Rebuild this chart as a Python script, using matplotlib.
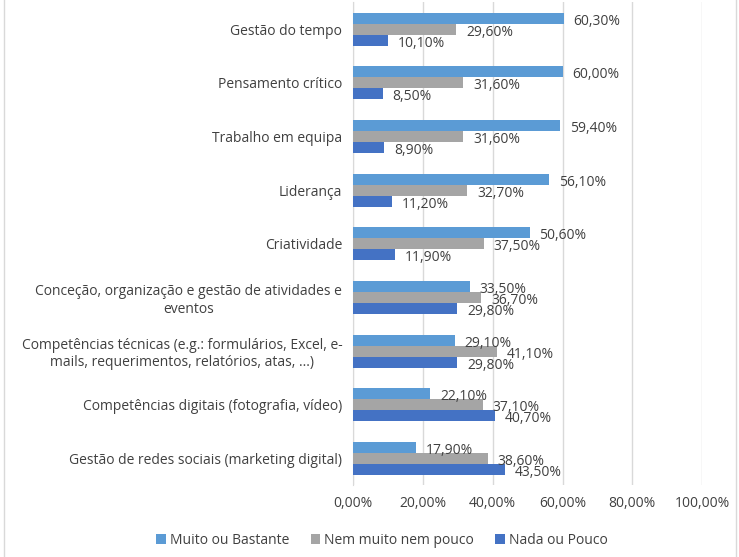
import matplotlib.pyplot as plt
import numpy as np

# data
categories = [
    "Gestão do tempo",
    "Pensamento crítico",
    "Trabalho em equipa",
    "Liderança",
    "Criatividade",
    "Conceção, organização e gestão de atividades e\neventos",
    "Competências técnicas (e.g.: formulários, Excel, e-\nmails, requerimentos, relatórios, atas, ...)",
    "Competências digitais (fotografia, vídeo)",
    "Gestão de redes sociais (marketing digital)",
]
muito = [60.3, 60.0, 59.4, 56.1, 50.6, 33.5, 29.1, 22.1, 17.9]
nem = [29.6, 31.6, 31.6, 32.7, 37.5, 36.7, 41.1, 37.1, 38.6]
nada = [10.1, 8.5, 8.9, 11.2, 11.9, 29.8, 29.8, 40.7, 43.5]
series_names = ["Muito ou Bastante", "Nem muito nem pouco", "Nada ou Pouco"]
colors = ["#5B9BD5", "#A5A5A5", "#4472C4"]
xticks = [0, 20, 40, 60, 80, 100]

plt.rcParams['font.family'] = ['Open Sans', 'DejaVu Sans']
text_color = "#404040"
fs = 10

fig = plt.figure(figsize=(7.39, 5.57), dpi=100)
ax = fig.add_axes([0.478, 0.129, 0.472, 0.867])

y = np.arange(len(categories))
h = 0.205
for i, (vals, name, col) in enumerate(zip([muito, nem, nada], series_names, colors)):
    pos = y + (i - 1) * h
    ax.barh(pos, vals, height=h, color=col, label=name, zorder=3)
    for p, v in zip(pos, vals):
        ax.text(v + 2.8, p + 0.06, f"{v:.2f}%".replace(".", ","),
                va="center", ha="left", fontsize=fs, color=text_color, zorder=4)

ax.set_ylim(len(categories) - 0.5, -0.5)
ax.set_xlim(0, 100)
ax.set_xticks(xticks)
ax.set_xticklabels([f"{t:.2f}%".replace(".", ",") for t in xticks], fontsize=fs, color=text_color)
ax.set_yticks(y)
ax.set_yticklabels(categories, fontsize=fs, color=text_color, multialignment="center")
ax.tick_params(length=0)
ax.tick_params(axis="x", pad=8)
ax.tick_params(axis="y", pad=8)
ax.grid(axis="x", color="#D9D9D9", linewidth=1, zorder=0)
for s in ["top", "right", "bottom"]:
    ax.spines[s].set_visible(False)
ax.spines["left"].set_color("#D9D9D9")

handles, labels = ax.get_legend_handles_labels()
fig.legend(handles, labels, loc="center", bbox_to_anchor=(0.517, 1 - 540 / 557),
           ncol=3, frameon=False, fontsize=fs, handlelength=0.7, handleheight=0.7,
           columnspacing=1.5, handletextpad=0.3, labelcolor=text_color)

# chart border
fig.patches.append(plt.Rectangle((0.006, -0.01), 0.99, 1.02, transform=fig.transFigure,
                                 fill=False, edgecolor="#D9D9D9", linewidth=1))

fig.savefig("out.png", dpi=100)
